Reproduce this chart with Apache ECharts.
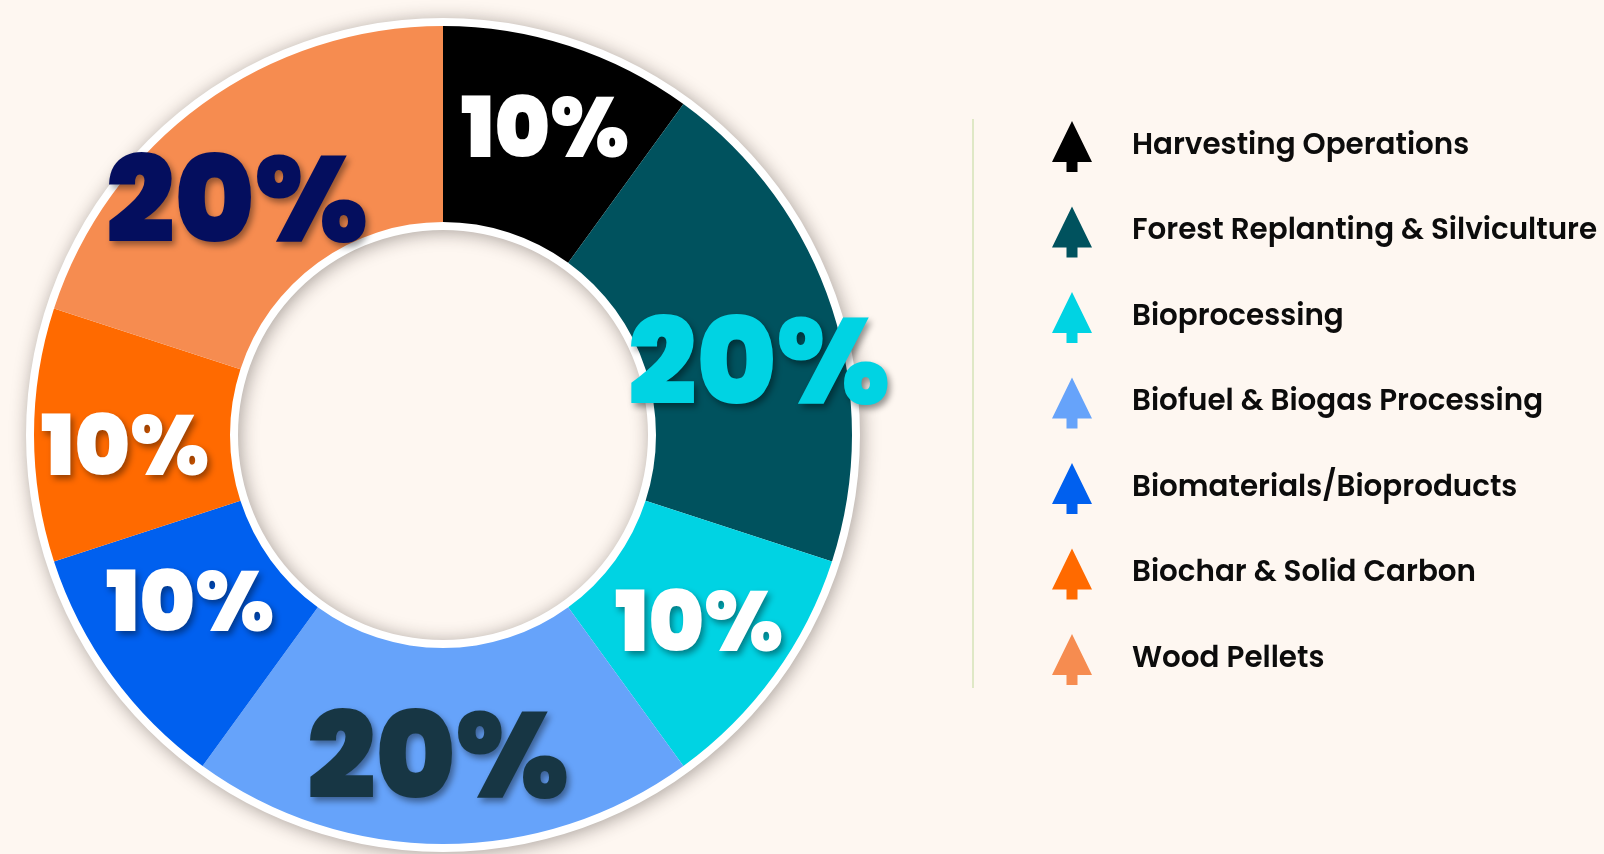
<!DOCTYPE html>
<html>
<head>
<meta charset="utf-8">
<style>
html,body{margin:0;padding:0;background:#fef7f1}
#chart{width:1604px;height:854px}
</style>
<script src="https://cdn.jsdelivr.net/npm/echarts@6/dist/echarts.min.js"></script>
</head>
<body>
<div id="chart"></div>
<script>
// Share of activity by forest-biomass category, clockwise from 12 o'clock
const categories = ['Harvesting Operations','Forest Replanting & Silviculture','Bioprocessing','Biofuel & Biogas Processing','Biomaterials/Bioproducts','Biochar & Solid Carbon','Wood Pellets'];
const shares = [10,20,10,20,10,10,20];
const sliceColors = ['#000000','#00525e','#00d3e3','#66a3fa','#0060ef','#ff6a00','#f68c50'];
const labelColors = ['#ffffff','#00d3e3','#ffffff','#173644','#ffffff','#ffffff','#040e5e'];
const labelCenters = [[545,136],[759,374],[699,630],[438,768],[190,610],[125,454],[237,212]];

const center = [443,435];
const treeIcon = 'path://M20 0L40 41L25.5 41L25.5 51L14.5 51L14.5 41L0 41Z';

const chart = echarts.init(document.getElementById('chart'));
chart.setOption({
  backgroundColor:'#fef7f1',
  animation:false,
  legend:{
    orient:'vertical',left:1047,top:116,
    data:categories,
    icon:treeIcon,
    itemWidth:40,itemHeight:51,itemGap:34.5,
    selectedMode:false,
    textStyle:{fontFamily:'Poppins, Inter, sans-serif',fontWeight:600,fontSize:29.4,color:'#0c0c0c',padding:[3,0,0,35]}
  },
  graphic:[{
    type:'line',silent:true,
    shape:{x1:973,y1:119,x2:973,y2:688},
    style:{stroke:'#dfe8c6',lineWidth:2}
  }],
  series:[
    {
      // White rim with a soft shadow behind the ring
      type:'pie',silent:true,center,radius:[205,417],
      label:{show:false},labelLine:{show:false},
      itemStyle:{color:'#ffffff',shadowColor:'rgba(40,30,25,0.4)',shadowBlur:18,shadowOffsetX:2,shadowOffsetY:2},
      data:[{name:'rim',value:1}]
    },
    {
      type:'pie',center,radius:[213,409],startAngle:90,clockwise:true,
      silent:true,
      data:categories.map((name,i)=>({
        name,value:shares[i],
        itemStyle:{color:sliceColors[i]},
        label:{color:labelColors[i],fontSize:shares[i]>=20?121:84}
      })),
      label:{
        show:true,position:'inside',formatter:'{c}%',
        fontFamily:'Poppins, Inter, sans-serif',fontWeight:900,
        align:'center',verticalAlign:'middle',
        textShadowColor:'rgba(0,0,0,0.4)',textShadowBlur:6,textShadowOffsetX:3,textShadowOffsetY:4
      },
      labelLine:{show:false},
      labelLayout:p=>({x:labelCenters[p.dataIndex][0],y:labelCenters[p.dataIndex][1],align:'center',verticalAlign:'middle'})
    }
  ]
});
</script>
</body>
</html>
